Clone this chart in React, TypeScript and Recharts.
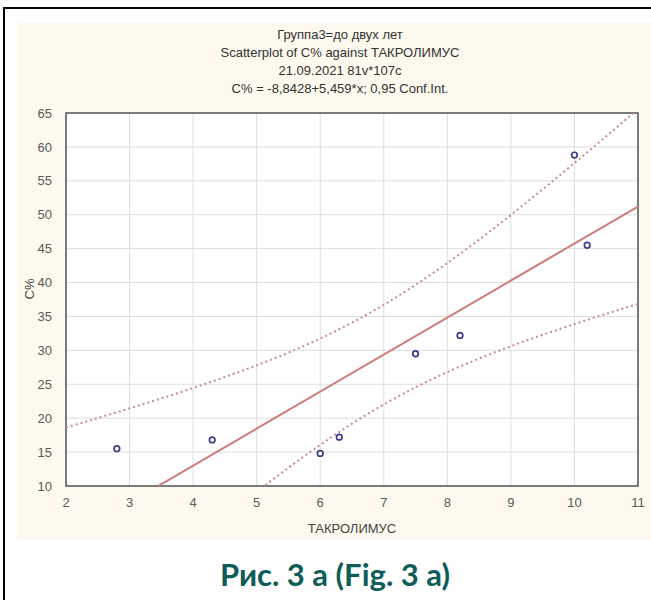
import { ComposedChart, Line, Scatter, XAxis, YAxis, CartesianGrid, ReferenceArea } from 'recharts';

// axis ticks
const xTicks = [2, 3, 4, 5, 6, 7, 8, 9, 10, 11];
const yTicks = [10, 15, 20, 25, 30, 35, 40, 45, 50, 55, 60, 65];

// observed points (ТАКРОЛИМУС, C%)
const pointX = [2.8, 4.3, 6.0, 6.3, 7.5, 8.2, 10.0, 10.2];
const pointY = [15.5, 16.8, 14.8, 17.2, 29.5, 32.2, 58.8, 45.5];

// regression line ends
const fitX = [2, 11];
const fitY = [2.08, 51.21];

// 0,95 confidence band
const bandX = [2, 2.5, 3, 3.5, 4, 4.5, 5, 5.5, 6, 6.5, 7, 7.5, 8, 8.5, 9, 9.5, 10, 10.5, 11];
const upperY = [18.64, 20.02, 21.44, 22.92, 24.45, 26.07, 27.79, 29.67, 31.75, 34.09, 36.72, 39.66, 42.88, 46.33, 49.97, 53.74, 57.62, 61.57, 65.57];
const lowerY = [-14.48, -10.42, -6.38, -2.4, 1.53, 5.37, 9.11, 12.69, 16.07, 19.19, 22.02, 24.55, 26.79, 28.79, 30.61, 32.3, 33.88, 35.39, 36.85];

const points = pointX.map((x, i) => ({ x, y: pointY[i] }));
const fit = fitX.map((x, i) => ({ x, y: fitY[i] }));
const upper = bandX.map((x, i) => ({ x, y: upperY[i] }));
const lower = bandX.map((x, i) => ({ x, y: lowerY[i] }));

const narrow = "'Liberation Sans Narrow', 'Liberation Sans', Arial, sans-serif";
const tickStyle = { fontSize: 13, fill: '#5a5a5a', fontFamily: narrow };

const titleLines = [
  'Группа3=до двух лет',
  'Scatterplot of C% against ТАКРОЛИМУС',
  '21.09.2021 81v*107c',
  'C% = -8,8428+5,459*x; 0,95 Conf.Int.',
];

const OpenDot = (p: any) => (
  <circle cx={p.cx} cy={p.cy} r={2.8} fill="#fff" stroke="#3c3c8c" strokeWidth={1.7} />
);

export default function App() {
  return (
    <div style={{ position: 'absolute', left: 0, top: 0, width: 651, height: 600, background: '#fff', overflow: 'hidden' }}>
      {/* frame of the figure */}
      <div style={{ position: 'absolute', left: 3, top: 7, width: 648, height: 2, background: '#000' }} />
      <div style={{ position: 'absolute', left: 3, top: 7, width: 2, height: 593, background: '#000' }} />
      <div style={{ position: 'absolute', left: 17, top: 23, width: 634, height: 517, background: '#fdf9ee' }} />

      <div style={{ position: 'absolute', left: 140, top: 26, width: 400, textAlign: 'center', fontFamily: narrow, fontSize: 13, color: '#333', lineHeight: '18px' }}>
        {titleLines.map((t) => (
          <div key={t}>{t}</div>
        ))}
      </div>

      <div style={{ position: 'absolute', left: 0, top: 0 }}>
        <ComposedChart width={651} height={600} margin={{ top: 113, right: 13, bottom: 84, left: 0 }}>
          <CartesianGrid stroke="#dedede" fill="#fff" strokeWidth={1} />
          <XAxis
            type="number"
            dataKey="x"
            domain={[2, 11]}
            ticks={xTicks}
            allowDataOverflow
            axisLine={false}
            tickLine={false}
            tick={tickStyle}
            tickMargin={6}
            height={30}
            label={{ value: 'ТАКРОЛИМУС', position: 'insideBottom', offset: -17, style: { fontSize: 13, fill: '#444', fontFamily: narrow } }}
          />
          <YAxis
            type="number"
            dataKey="y"
            domain={[10, 65]}
            ticks={yTicks}
            allowDataOverflow
            axisLine={false}
            tickLine={false}
            tick={tickStyle}
            tickMargin={8}
            width={66}
            label={{ value: 'C%', angle: -90, position: 'insideLeft', offset: 29, style: { fontSize: 13, fill: '#444', fontFamily: narrow } }}
          />
          <ReferenceArea x1={2} x2={11} y1={10} y2={65} fill="none" stroke="#555" strokeWidth={1.5} />
          <Line data={upper} dataKey="y" type="monotone" stroke="#c98a98" strokeWidth={2} strokeDasharray="2 3" dot={false} isAnimationActive={false} />
          <Line data={lower} dataKey="y" type="monotone" stroke="#c98a98" strokeWidth={2} strokeDasharray="2 3" dot={false} isAnimationActive={false} />
          <Line data={fit} dataKey="y" type="linear" stroke="#cf7a7a" strokeWidth={2} dot={false} isAnimationActive={false} />
          <Scatter data={points} dataKey="y" shape={OpenDot} isAnimationActive={false} />
        </ComposedChart>
      </div>

      <div style={{ position: 'absolute', left: 0, top: 554, width: 670, textAlign: 'center', fontFamily: "'Lato', 'Open Sans', sans-serif", fontWeight: 700, fontSize: 31, color: '#0f5c58', lineHeight: '40px' }}>
        Рис. 3 а (Fig. 3 а)
      </div>
    </div>
  );
}
